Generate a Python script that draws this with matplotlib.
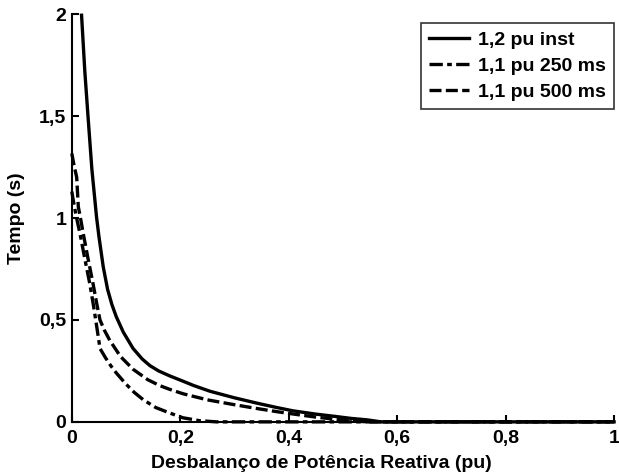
import matplotlib
matplotlib.use("Agg")
import matplotlib.pyplot as plt

plt.rcParams["font.family"] = ["Liberation Sans", "DejaVu Sans"]
plt.rcParams["font.weight"] = "bold"

# 1,2 pu inst
x_inst = [0.018, 0.024, 0.030, 0.037, 0.0456, 0.050, 0.058, 0.066, 0.074, 0.082,
          0.095, 0.113, 0.130, 0.144, 0.160, 0.181, 0.200, 0.225, 0.255, 0.30,
          0.341, 0.375, 0.408, 0.45, 0.488, 0.515, 0.544, 0.57, 0.8, 1.0]
t_inst = [1.995, 1.72, 1.495, 1.24, 1.005, 0.91, 0.76, 0.65, 0.575, 0.516,
          0.44, 0.36, 0.308, 0.276, 0.25, 0.225, 0.205, 0.178, 0.15, 0.118,
          0.092, 0.072, 0.054, 0.038, 0.026, 0.017, 0.01, 0.0, 0.0, 0.0]

# 1,1 pu 250 ms
x_250 = [0.0, 0.0025, 0.008, 0.015, 0.024, 0.033, 0.040, 0.046, 0.052, 0.062,
         0.072, 0.082, 0.100, 0.115, 0.132, 0.155, 0.181, 0.205, 0.235, 0.267,
         0.5, 0.8, 1.0]
t_250 = [1.13, 1.09, 1.01, 0.925, 0.80, 0.68, 0.57, 0.467, 0.36, 0.315,
         0.275, 0.24, 0.185, 0.145, 0.108, 0.07, 0.043, 0.02, 0.006, 0.0,
         0.0, 0.0, 0.0]

# 1,1 pu 500 ms
x_500 = [0.0, 0.004, 0.009, 0.012, 0.016, 0.021, 0.030, 0.039, 0.046, 0.052,
         0.060, 0.070, 0.090, 0.113, 0.140, 0.162, 0.180, 0.205, 0.250, 0.298,
         0.338, 0.378, 0.415, 0.451, 0.485, 0.513, 0.545, 0.8, 1.0]
t_500 = [1.317, 1.26, 1.2, 1.055, 1.0, 0.925, 0.80, 0.68, 0.58, 0.50,
         0.45, 0.40, 0.32, 0.258, 0.207, 0.178, 0.16, 0.138, 0.108, 0.085,
         0.067, 0.05, 0.036, 0.023, 0.013, 0.006, 0.0, 0.0, 0.0]

x_ticks = [0, 0.2, 0.4, 0.6, 0.8, 1.0]
x_labels = ["0", "0,2", "0,4", "0,6", "0,8", "1"]
y_ticks = [0, 0.5, 1.0, 1.5, 2.0]
y_labels = ["0", "0,5", "1", "1,5", "2"]

fig = plt.figure(figsize=(6.19, 4.74), dpi=100)
ax = fig.add_axes([0.116, 0.110, 0.876, 0.860])

lw = 2.4
ax.plot(x_inst, t_inst, color="black", lw=lw, ls="-", label="1,2 pu inst", clip_on=False)
ax.plot(x_250, t_250, color="black", lw=lw, ls=(0, (4, 1.3, 1.4, 1.3)),
        label="1,1 pu 250 ms", clip_on=False)
ax.plot(x_500, t_500, color="black", lw=lw, ls=(0, (3.6, 1.3)),
        label="1,1 pu 500 ms", clip_on=False)

ax.set_xlim(0, 1)
ax.set_ylim(0, 2)
ax.set_xticks(x_ticks)
ax.set_xticklabels(x_labels)
ax.set_yticks(y_ticks)
ax.set_yticklabels(y_labels)
ax.tick_params(direction="in", length=5, width=1.5, labelsize=14, pad=4)
ax.tick_params(axis="x", pad=6)
for lab in ax.get_xticklabels() + ax.get_yticklabels():
    lab.set_fontweight("bold")

for side in ["top", "right"]:
    ax.spines[side].set_visible(False)
for side in ["left", "bottom"]:
    ax.spines[side].set_linewidth(1.5)

ax.set_xlabel("Desbalanço de Potência Reativa (pu)", fontsize=14, fontweight="bold", labelpad=0)
ax.xaxis.set_label_coords(0.46, -0.082)
ax.set_ylabel("Tempo (s)", fontsize=14, fontweight="bold", labelpad=10)

leg = ax.legend(loc="upper right", bbox_to_anchor=(1.0, 0.978), fontsize=14,
                frameon=True, fancybox=False, edgecolor="black", handlelength=2.05,
                borderaxespad=0.0, borderpad=0.42, labelspacing=0.42,
                handletextpad=0.45)
leg.get_frame().set_linewidth(1.2)
for t in leg.get_texts():
    t.set_fontweight("bold")

fig.savefig("out.png", dpi=100, facecolor="white")
